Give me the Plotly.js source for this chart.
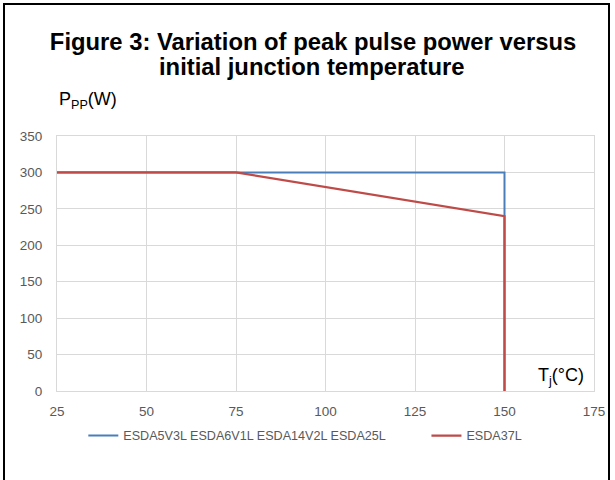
<!DOCTYPE html>
<html>
<head>
<meta charset="utf-8">
<script src="https://cdn.plot.ly/plotly-3.0.1.min.js"></script>
<style>
html,body{margin:0;padding:0;background:#fff;}
#wrap{position:relative;width:615px;height:480px;}
#chart{width:615px;height:480px;}
#frame{position:absolute;left:3px;top:3px;width:607px;height:480px;border-left:2.5px solid #000;border-top:2.5px solid #000;border-right:2.5px solid #000;pointer-events:none;box-sizing:border-box;}
</style>
</head>
<body>
<div id="wrap"><div id="chart"></div><div id="frame"></div></div>
<script>
const titleLine1 = "Figure 3: Variation of peak pulse power versus";
const titleLine2 = "initial junction temperature";
const seriesA_name = "ESDA5V3L ESDA6V1L ESDA14V2L ESDA25L";
const seriesA_x = [25, 150, 150];
const seriesA_y = [300, 300, 0];
const seriesB_name = "ESDA37L";
const seriesB_x = [25, 75, 150, 150];
const seriesB_y = [300, 300, 240, 0];
const xTicks = [25, 50, 75, 100, 125, 150, 175];
const yTicks = [0, 50, 100, 150, 200, 250, 300, 350];

const tickFont = {family: "Liberation Sans, Arial, sans-serif", size: 13.5, color: "#595959"};
const legFont = {family: "Liberation Sans, Arial, sans-serif", size: 12.6, color: "#595959"};
const traces = [
  {x: seriesA_x, y: seriesA_y, name: seriesA_name, mode: "lines", line: {color: "#4a7ebb", width: 2}, legend: "legend"},
  {x: seriesB_x, y: seriesB_y, name: seriesB_name, mode: "lines", line: {color: "#be4b48", width: 2.2}, legend: "legend2"}
];
const layout = {
  width: 615, height: 480,
  margin: {l: 57, r: 21, t: 136, b: 89},
  paper_bgcolor: "#fff", plot_bgcolor: "#fff",
  title: {text: "<b>" + titleLine1 + "</b>",
          font: {family: "Liberation Sans, Arial, sans-serif", size: 23.8, color: "#000"},
          xref: "container", yref: "container", x: 0.509, xanchor: "center", y: 0.913, yanchor: "middle"},
  xaxis: {range: [25, 175], tickvals: xTicks, ticktext: xTicks.map(String), showgrid: true, gridcolor: "#d9d9d9", gridwidth: 1,
          zeroline: false, showline: true, linecolor: "#d9d9d9", linewidth: 1, mirror: true, tickfont: tickFont, ticks: "", ticklen: 0, ticklabelstandoff: 8},
  yaxis: {range: [0, 350], tickvals: yTicks, ticktext: yTicks.map(String), showgrid: true, gridcolor: "#d9d9d9", gridwidth: 1,
          zeroline: false, showline: true, linecolor: "#d9d9d9", linewidth: 1, mirror: true, tickfont: tickFont, ticks: "", ticklen: 0, ticklabelstandoff: 11},
  showlegend: true,
  legend: {orientation: "h", x: 0.049, xanchor: "left", y: -0.176, yanchor: "middle", font: legFont, itemwidth: 30},
  legend2: {orientation: "h", x: 0.688, xanchor: "left", y: -0.176, yanchor: "middle", font: legFont, itemwidth: 30},
  annotations: [
    {text: "<b>" + titleLine2 + "</b>", xref: "paper", yref: "paper", x: (311 - 57) / 537, y: 1 + (136 - 66) / 255,
     xanchor: "center", yanchor: "middle", showarrow: false,
     font: {family: "Liberation Sans, Arial, sans-serif", size: 23.8, color: "#000"}},
    {text: "P<sub>PP</sub>(W)", xref: "paper", yref: "paper", x: 0.0, y: 1 + (136 - 100) / 255, xanchor: "left", yanchor: "middle", showarrow: false,
     font: {family: "Liberation Sans, Arial, sans-serif", size: 18, color: "#000"}},
    {text: "T<sub>j</sub>(°C)", xref: "paper", yref: "paper", x: 0.985, y: 0.005, xanchor: "right", yanchor: "bottom", showarrow: false,
     bgcolor: "#fff", font: {family: "Liberation Sans, Arial, sans-serif", size: 18, color: "#000"}}
  ]
};
Plotly.newPlot("chart", traces, layout, {displayModeBar: false, staticPlot: true});
</script>
</body>
</html>
